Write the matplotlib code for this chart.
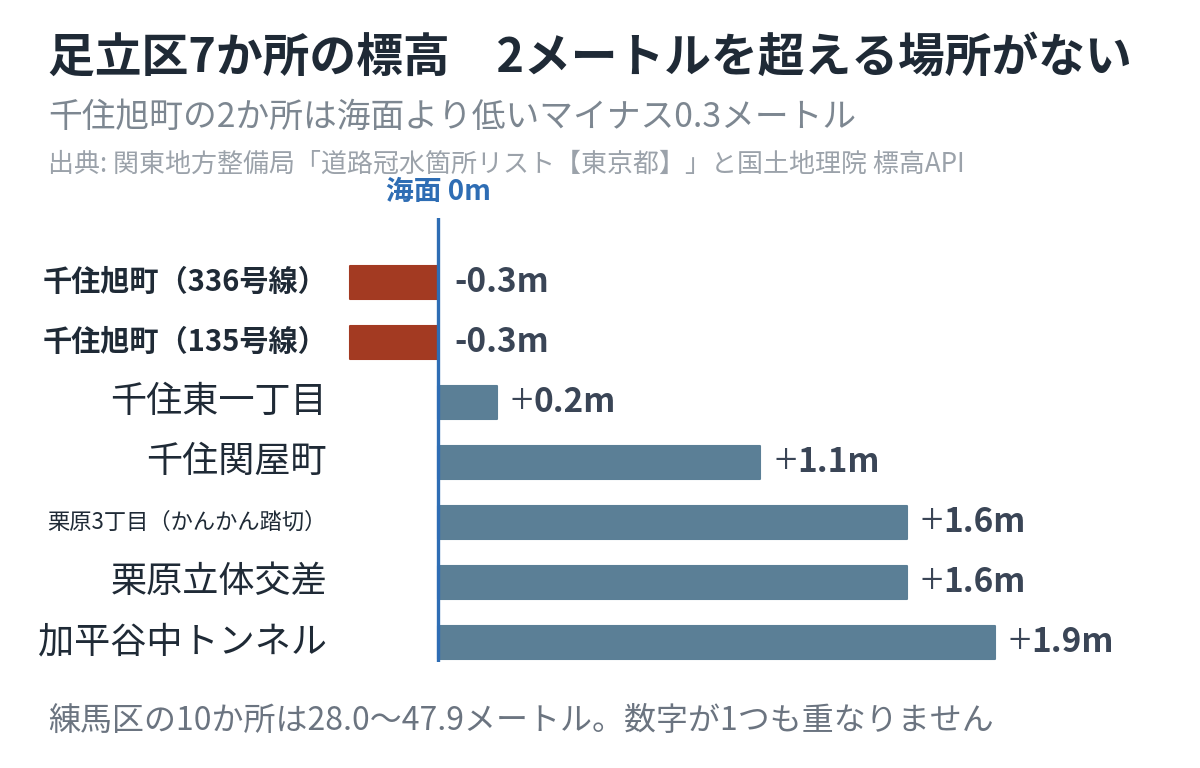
import matplotlib
matplotlib.use("Agg")
import matplotlib.pyplot as plt
from matplotlib.transforms import blended_transform_factory, offset_copy

plt.rcParams['font.family'] = ['Noto Sans CJK JP', 'DejaVu Sans']

# data
places = ["千住旭町（336号線）", "千住旭町（135号線）", "千住東一丁目", "千住関屋町",
          "栗原3丁目（かんかん踏切）", "栗原立体交差", "加平谷中トンネル"]
heights = [-0.3, -0.3, 0.2, 1.1, 1.6, 1.6, 1.9]
value_labels = ["-0.3m", "-0.3m", "+0.2m", "+1.1m", "+1.6m", "+1.6m", "+1.9m"]

title = "足立区7か所の標高　2メートルを超える場所がない"
subtitle = "千住旭町の2か所は海面より低いマイナス0.3メートル"
source = "出典: 関東地方整備局「道路冠水箇所リスト【東京都】」と国土地理院 標高API"
footer = "練馬区の10か所は28.0〜47.9メートル。数字が1つも重なりません"

#label styles: (fontsize, weight)
label_styles = [(21, 'bold'), (21, 'bold'), (26, 'normal'), (26, 'normal'),
                (16, 'normal'), (26, 'normal'), (26, 'normal')]

neg_color = "#a33a22"
pos_color = "#5b7f96"
zero_color = "#2e6db4"
dark = "#1f2a36"
val_color = "#3a4556"
val_size = 24

W, H = 1200, 768
fig = plt.figure(figsize=(W / 100, H / 100), dpi=100)

#axes placed so that zero sits at x=438px, rows from y=282 to 642
px_per_m = 293.0
ax_left_px, ax_right_px = 340, 1140
ax_top_px, ax_bot_px = 218, 662
ax = fig.add_axes([ax_left_px / W, 1 - ax_bot_px / H,
                   (ax_right_px - ax_left_px) / W, (ax_bot_px - ax_top_px) / H])
ax.set_xlim(-(438 - ax_left_px) / px_per_m, (ax_right_px - 438) / px_per_m)
ax.set_ylim(6 + (ax_bot_px - 642) / 60, -(282 - ax_top_px) / 60)
ax.axis('off')

colors = [neg_color if h < 0 else pos_color for h in heights]
ys = list(range(len(places)))
ax.barh(ys, heights, height=0.55, color=colors, edgecolor=colors,
        linewidth=1.5, joinstyle='round')
ax.axvline(0, color=zero_color, linewidth=2.4, zorder=3)

#value labels, the plus sign is drawn thin like the original
renderer = fig.canvas.get_renderer()
for y, h, lab in zip(ys, heights, value_labels):
    x = max(h, 0)
    if lab.startswith("+"):
        base = offset_copy(ax.transData, fig=fig, x=10, y=0, units='points')
        t = ax.text(x, y, "+", transform=base, ha='left', va='center',
                    fontsize=30, fontweight='light', color=val_color)
        w = t.get_window_extent(renderer).width * 72 / fig.dpi
        rest = offset_copy(ax.transData, fig=fig, x=10 + w + 0.5, y=0, units='points')
        ax.text(x, y, lab[1:], transform=rest, ha='left', va='center',
                fontsize=val_size, fontweight='bold', color=val_color)
    else:
        base = offset_copy(ax.transData, fig=fig, x=12, y=0, units='points')
        ax.text(x, y, lab, transform=base, ha='left', va='center',
                fontsize=val_size, fontweight='bold', color=val_color)

#category labels
trans = blended_transform_factory(fig.transFigure, ax.transData)
for y, name, (fs, fw) in zip(ys, places, label_styles):
    ax.text(327 / W, y, name, transform=trans, ha='right', va='center',
            fontsize=fs, fontweight=fw, color=dark)

fig.text(438 / W, 1 - 192 / H, "海面 0m", ha='center', va='center',
         fontsize=20, fontweight='bold', color=zero_color)

fig.text(48 / W, 1 - 58 / H, title, ha='left', va='center',
         fontsize=33.7, fontweight='bold', color=dark)
fig.text(48 / W, 1 - 117 / H, subtitle, ha='left', va='center',
         fontsize=24.3, color="#7d8791")
fig.text(48 / W, 1 - 164 / H, source, ha='left', va='center',
         fontsize=18.7, color="#9ba2aa")
fig.text(48 / W, 1 - 721 / H, footer, ha='left', va='center',
         fontsize=23, color="#6b7480")

fig.savefig("out.png", dpi=100)
